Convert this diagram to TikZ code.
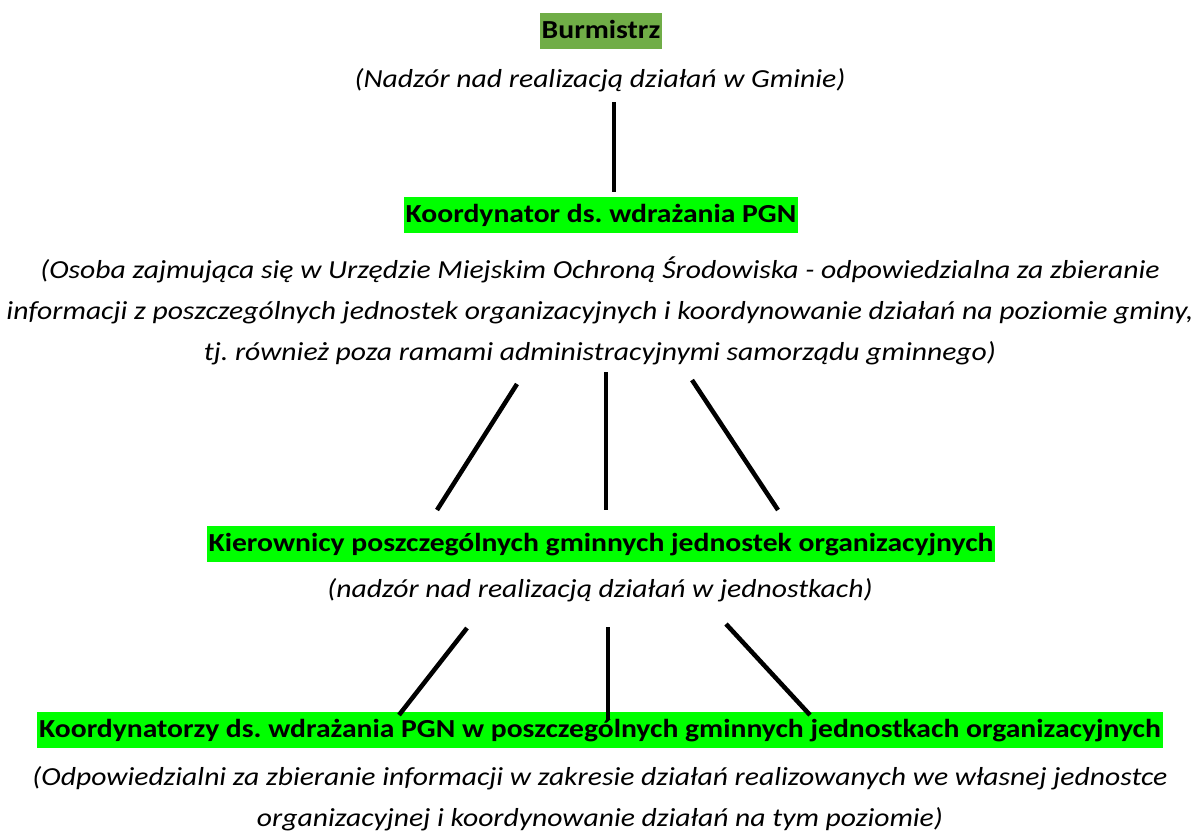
\documentclass[tikz,border=0pt]{standalone}
\usepackage{fontspec}
\setmainfont{Carlito}[FakeStretch=1.14]
\usepackage{tikz}
\usetikzlibrary{positioning,calc}
\definecolor{headgreen}{RGB}{112,173,71}
\definecolor{brightgreen}{RGB}{0,255,0}
\frenchspacing
\tikzset{
  title/.style={fill=brightgreen, inner xsep=1.5pt, inner ysep=0pt, text height=19pt, text depth=8pt, font=\fontsize{19.5}{23}\selectfont\bfseries},
  desc/.style={align=center, font=\fontsize{19.5}{30.75}\selectfont\itshape},
  link/.style={line width=3.4pt}
}
\begin{document}
\begin{tikzpicture}[x=0.75pt, y=-0.75pt]
        \useasboundingbox (0,0) rectangle (1195,836);
        \node[title, fill=headgreen] (burm) at (601,31) {Burmistrz};
        \node[desc] (burmdesc) at (600,80) {(Nadzór nad realizacją działań w Gminie)};
        \node[title] (koord) at (601,215) {Koordynator ds. wdrażania PGN};
        \node[desc] (koorddesc) at (600,311) {(Osoba zajmująca się w Urzędzie Miejskim Ochroną Środowiska - odpowiedzialna za zbieranie\\informacji z poszczególnych jednostek organizacyjnych i koordynowanie działań na poziomie gminy,\\tj. również poza ramami administracyjnymi samorządu gminnego)};
        \node[title] (kier) at (601,544) {Kierownicy poszczególnych gminnych jednostek organizacyjnych};
        \node[desc] (kierdesc) at (600,590) {(nadzór nad realizacją działań w jednostkach)};
        \node[title] (jedn) at (600,730) {Koordynatorzy ds. wdrażania PGN w poszczególnych gminnych jednostkach organizacyjnych};
        \node[desc] (jedndesc) at (600,799) {(Odpowiedzialni za zbieranie informacji w zakresie działań realizowanych we własnej jednostce\\organizacyjnej i koordynowanie działań na tym poziomie)};
        \coordinate (a1) at (614,102);
        \coordinate (a2) at (614,192);
        \coordinate (b1) at (517,384);
        \coordinate (b2) at (437,510);
        \coordinate (c1) at (606,372);
        \coordinate (c2) at (606,510);
        \coordinate (d1) at (692,380);
        \coordinate (d2) at (778,510);
        \coordinate (e1) at (467,628);
        \coordinate (e2) at (399,715);
        \coordinate (f1) at (608,627);
        \coordinate (f2) at (608,720);
        \coordinate (g1) at (726,624);
        \coordinate (g2) at (810,715);
        \draw[link] (a1) -- (a2);
        \draw[link] (b1) -- (b2);
        \draw[link] (c1) -- (c2);
        \draw[link] (d1) -- (d2);
        \draw[link] (e1) -- (e2);
        \draw[link] (f1) -- (f2);
        \draw[link] (g1) -- (g2);
    \end{tikzpicture}
\end{document}
